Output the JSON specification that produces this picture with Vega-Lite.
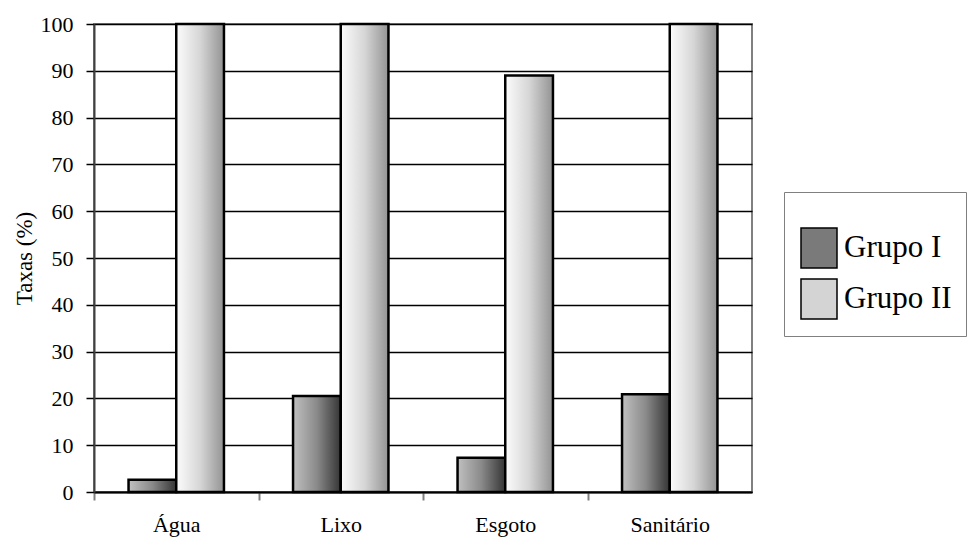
{
  "$schema": "https://vega.github.io/schema/vega-lite/v6.json",
  "width": 658,
  "height": 468,
  "autosize": "none",
  "padding": {"left": 94, "top": 24, "right": 227, "bottom": 52},
  "background": "white",
  "config": {
    "font": "Liberation Serif",
    "axis": {"labelFont": "Liberation Serif", "titleFont": "Liberation Serif"},
    "legend": {"labelFont": "Liberation Serif", "titleFont": "Liberation Serif"},
    "view": {"stroke": "#808080", "strokeWidth": 2}
  },
  "data": {
    "values": [
      {"item": "Água", "grupo": "Grupo I", "taxa": 2.6},
      {"item": "Água", "grupo": "Grupo II", "taxa": 100},
      {"item": "Lixo", "grupo": "Grupo I", "taxa": 20.5},
      {"item": "Lixo", "grupo": "Grupo II", "taxa": 100},
      {"item": "Esgoto", "grupo": "Grupo I", "taxa": 7.3},
      {"item": "Esgoto", "grupo": "Grupo II", "taxa": 89},
      {"item": "Sanitário", "grupo": "Grupo I", "taxa": 20.9},
      {"item": "Sanitário", "grupo": "Grupo II", "taxa": 100}
    ]
  },
  "encoding": {
    "x": {
      "field": "item",
      "type": "nominal",
      "sort": ["Água", "Lixo", "Esgoto", "Sanitário"],
      "scale": {"paddingInner": 0.42, "paddingOuter": 0.21},
      "axis": {
        "title": null,
        "labelAngle": 0,
        "labelFontSize": 22,
        "labelColor": "black",
        "labelPadding": 14,
        "tickOffset": -82.25,
        "labelOffset": 82.25,
        "tickSize": 8,
        "tickColor": "#808080",
        "tickWidth": 2,
        "domainColor": "black",
        "domainWidth": 2
      }
    },
    "xOffset": {
      "field": "grupo",
      "type": "nominal",
      "sort": ["Grupo I", "Grupo II"],
      "scale": {"paddingInner": 0, "paddingOuter": 0}
    },
    "y": {
      "field": "taxa",
      "type": "quantitative",
      "scale": {"domain": [0, 100], "nice": false},
      "axis": {
        "title": "Taxas (%)",
        "titleFontSize": 23,
        "titleFontWeight": "normal",
        "titleColor": "black",
        "titlePadding": 4,
        "values": [0, 10, 20, 30, 40, 50, 60, 70, 80, 90, 100],
        "labelFontSize": 22,
        "labelColor": "black",
        "labelPadding": 13,
        "tickSize": 8,
        "tickColor": "black",
        "tickWidth": 1.5,
        "domainColor": "#404040",
        "domainWidth": 2,
        "grid": true,
        "gridColor": "black",
        "gridWidth": 1.5,
        "gridOpacity": 1
      }
    }
  },
  "layer": [
    {
      "mark": {"type": "bar", "stroke": "black", "strokeWidth": 2.5},
      "encoding": {
        "fill": {
          "condition": {
            "test": "datum.grupo === 'Grupo I'",
            "value": {
              "gradient": "linear",
              "x1": 0, "y1": 0, "x2": 1, "y2": 0,
              "stops": [
                {"offset": 0, "color": "#c0c0c0"},
                {"offset": 0.5, "color": "#8a8a8a"},
                {"offset": 1, "color": "#353535"}
              ]
            }
          },
          "value": {
            "gradient": "linear",
            "x1": 0, "y1": 0, "x2": 1, "y2": 0,
            "stops": [
              {"offset": 0, "color": "#fcfcfc"},
              {"offset": 0.5, "color": "#d6d6d6"},
              {"offset": 1, "color": "#939393"}
            ]
          }
        }
      }
    },
    {
      "mark": {"type": "point", "filled": true, "opacity": 0},
      "encoding": {
        "color": {
          "field": "grupo",
          "type": "nominal",
          "scale": {"domain": ["Grupo I", "Grupo II"], "range": ["#7a7a7a", "#d4d4d4"]},
          "legend": {
            "orient": "none",
            "legendX": 690,
            "legendY": 168,
            "title": " ",
            "titleFontSize": 10,
            "titlePadding": 11,
            "padding": 14,
            "strokeColor": "#808080",
            "fillColor": "white",
            "symbolType": "M-0.9,-1H0.9V1H-0.9Z",
            "symbolSize": 1600,
            "symbolStrokeColor": "black",
            "symbolStrokeWidth": 1.5,
            "symbolOpacity": 1,
            "labelFontSize": 31,
            "labelColor": "black",
            "labelOffset": 4,
            "labelLimit": 300,
            "rowPadding": 5
          }
        }
      }
    }
  ]
}
